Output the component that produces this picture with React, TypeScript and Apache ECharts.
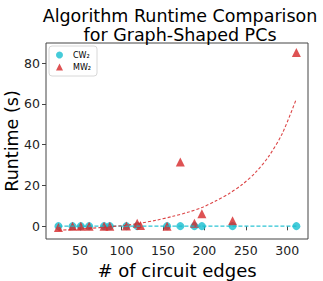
import React, { useEffect, useRef } from "react";
import * as echarts from "echarts";

const titleLines = ["Algorithm Runtime Comparison", "for Graph-Shaped PCs"];
const xTicks = [50, 100, 150, 200, 250, 300];
const yTicks = [0, 20, 40, 60, 80];

const cwEdges = [24, 41, 51, 61, 79, 86, 106, 119, 155, 171, 188, 197, 234, 311];
const cwRuntime = [0.1, 0.1, 0.1, 0.1, 0.1, 0.1, 0.1, 0.1, 0.1, 0.1, 0.1, 0.1, 0.1, 0.1];

const mwEdges = [24, 41, 51, 61, 79, 86, 106, 119, 123, 155, 171, 188, 197, 234, 311];
const mwRuntime = [-0.6, 0.0, 0.0, 0.0, 0.0, 0.0, 0.2, 1.5, 0.4, 0.0, 31.5, 1.5, 6.2, 2.8, 85.2];

const cwFitX = [24, 311];
const cwFitY = [0.1, 0.1];

const mwFitX = [24, 45, 62, 85, 107, 122, 142, 162, 181, 198, 214, 230, 246, 262, 278, 294, 311];
const mwFitY = [-1.9, -1.5, -1.0, -0.2, 0.6, 1.5, 3.0, 4.9, 7.0, 9.4, 12.5, 16.1, 20.6, 26.5, 34.5, 45.5, 62.5];

const CYAN = "#17becf";
const RED = "#d62728";
const FONT = "DejaVu Sans";

export default function App() {
  const ref = useRef<HTMLDivElement>(null);
  useEffect(() => {
    if (!ref.current) return;
    const chart = echarts.init(ref.current, null, { renderer: "svg" });
    chart.setOption({
      animation: false,
      backgroundColor: "#fff",
      title: {
        text: titleLines.join("\n"),
        left: 175,
        textAlign: "center",
        top: 1,
        textStyle: { fontFamily: FONT, fontSize: 17.5, fontWeight: "normal", color: "#000", lineHeight: 19.5 },
      },
      legend: {
        left: 49,
        top: 46,
        orient: "vertical",
        itemWidth: 7,
        itemHeight: 7,
        itemGap: 4,
        padding: [5, 6, 5, 7],
        borderColor: "#d8d8d8",
        borderWidth: 1,
        borderRadius: 3,
        textStyle: { fontFamily: FONT, fontSize: 8, color: "#000", padding: [0, 0, 0, 5] },
        data: [
          { name: "CW₂", icon: "circle" },
          { name: "MW₂", icon: "triangle" },
        ],
      },
      grid: {
        left: 46,
        right: 15,
        top: 43,
        bottom: 42,
        outerBoundsMode: "none",
        containLabel: false,
        show: true,
        borderColor: "#444",
        borderWidth: 1,
        backgroundColor: "transparent",
      },
      xAxis: {
        type: "value",
        min: 9,
        max: 325,
        name: "# of circuit edges",
        nameLocation: "middle",
        nameGap: 21,
        nameTextStyle: { fontFamily: FONT, fontSize: 18, color: "#000" },
        axisLine: { show: false },
        splitLine: { show: false },
        axisTick: { show: true, length: 4, customValues: xTicks, lineStyle: { color: "#444" } },
        axisLabel: { customValues: xTicks, fontFamily: FONT, fontSize: 12.5, color: "#222", margin: 5 },
      },
      yAxis: {
        type: "value",
        min: -6.2,
        max: 89.8,
        name: "Runtime (s)",
        nameLocation: "middle",
        nameGap: 25,
        nameMoveOverlap: false,
        nameTextStyle: { fontFamily: FONT, fontSize: 17.5, color: "#000" },
        axisLine: { show: false },
        splitLine: { show: false },
        axisTick: { show: true, length: 4, customValues: yTicks, lineStyle: { color: "#444" } },
        axisLabel: { customValues: yTicks, fontFamily: FONT, fontSize: 12.5, color: "#222", margin: 6 },
      },
      series: [
        {
          name: "CW₂",
          type: "scatter",
          symbol: "circle",
          symbolSize: 8,
          itemStyle: { color: CYAN },
          data: cwEdges.map((x, i) => [x, cwRuntime[i]]),
          z: 2,
        },
        {
          name: "MW₂",
          type: "scatter",
          symbol: "triangle",
          symbolSize: 9,
          itemStyle: { color: RED },
          data: mwEdges.map((x, i) => [x, mwRuntime[i]]),
          z: 3,
        },
        {
          name: "cwfit",
          type: "line",
          showSymbol: false,
          symbol: "none",
          lineStyle: { color: CYAN, width: 1.2, type: [4, 2], opacity: 0.9 },
          data: cwFitX.map((x, i) => [x, cwFitY[i]]),
          z: 4,
        },
        {
          name: "mwfit",
          type: "line",
          showSymbol: false,
          symbol: "none",
          smooth: 0.3,
          lineStyle: { color: RED, width: 1.1, type: [3, 2], opacity: 0.85 },
          data: mwFitX.map((x, i) => [x, mwFitY[i]]),
          z: 4,
        },
      ],
    });
    return () => chart.dispose();
  }, []);
  return <div ref={ref} style={{ width: 323, height: 281, position: "absolute", left: 0, top: 0 }} />;
}
